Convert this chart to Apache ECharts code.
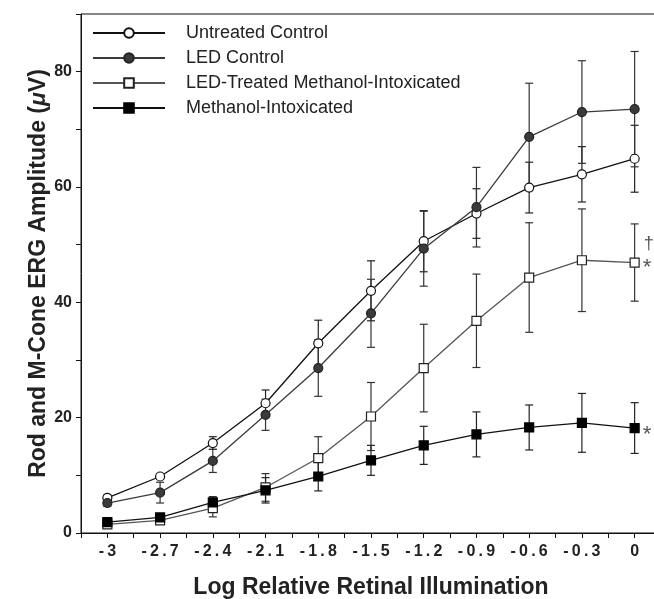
<!DOCTYPE html>
<html>
<head>
<meta charset="utf-8">
<script src="https://cdn.jsdelivr.net/npm/echarts@6/dist/echarts.min.js"></script>
<style>
html,body{margin:0;padding:0;background:#fff;}
#chart{width:654px;height:599px;}
</style>
</head>
<body>
<div id="chart"></div>
<script>
// Log relative retinal illumination
var xValues = [-3, -2.7, -2.4, -2.1, -1.8, -1.5, -1.2, -0.9, -0.6, -0.3, 0];

var seriesNames = ['Untreated Control', 'LED Control', 'LED-Treated Methanol-Intoxicated', 'Methanol-Intoxicated'];

var untreatedMean = [6.1, 9.8, 15.6, 22.5, 32.9, 42.0, 50.6, 55.4, 59.9, 62.2, 64.9];
var untreatedSD   = [0.5, 0.5, 1.1, 2.3, 4.0, 5.2, 5.3, 4.3, 4.4, 4.8, 5.8];

var ledControlMean = [5.2, 7.0, 12.5, 20.5, 28.6, 38.1, 49.3, 56.5, 68.7, 73.0, 73.5];
var ledControlSD   = [0.6, 1.8, 2.0, 2.7, 4.9, 5.9, 6.5, 6.9, 9.3, 8.9, 10.0];

var ledTreatedMean = [1.5, 2.2, 4.3, 7.9, 13.0, 20.2, 28.6, 36.8, 44.3, 47.3, 46.9];
var ledTreatedSD   = [0.4, 0.5, 1.5, 2.4, 3.7, 5.9, 7.6, 8.1, 9.5, 8.9, 6.7];

var methanolMean = [1.9, 2.7, 5.3, 7.4, 9.8, 12.6, 15.2, 17.1, 18.3, 19.1, 18.2];
var methanolSD   = [0.4, 0.5, 1.0, 2.2, 2.5, 2.6, 3.3, 3.9, 3.9, 5.1, 4.4];

// significance marks at the last point
var lastMarks = ['', '', '†\n*', '*'];

var FONT = 'Liberation Sans, Arial, Helvetica, sans-serif';

function pairs(mean) {
  return xValues.map(function (x, i) { return [x, mean[i]]; });
}
function bars(mean, sd) {
  return xValues.map(function (x, i) { return [x, mean[i] - sd[i], mean[i] + sd[i]]; });
}
function spaced(s) { return s.split('').join('\u2009'); }

var styles = [
  { line: '#111', symbol: 'circle', fill: '#fff', border: '#111', bar: '#222' },
  { line: '#3a3a3a', symbol: 'circle', fill: '#3a3a3a', border: '#222', bar: '#333' },
  { line: '#555', symbol: 'rect', fill: '#fff', border: '#222', bar: '#333' },
  { line: '#111', symbol: 'rect', fill: '#000', border: '#000', bar: '#222' }
];
var means = [untreatedMean, ledControlMean, ledTreatedMean, methanolMean];
var sds = [untreatedSD, ledControlSD, ledTreatedSD, methanolSD];

var series = [];
// error bars first (below)
means.forEach(function (m, k) {
  series.push({
    type: 'custom',
    name: seriesNames[k] + ' SD',
    data: bars(m, sds[k]),
    z: 1,
    silent: true,
    renderItem: function (params, api) {
      var x = api.value(0);
      var lo = api.coord([x, api.value(1)]);
      var hi = api.coord([x, api.value(2)]);
      var w = 4;
      var st = { stroke: styles[k].bar, lineWidth: 1.2 };
      return {
        type: 'group',
        children: [
          { type: 'line', shape: { x1: lo[0], y1: lo[1], x2: hi[0], y2: hi[1] }, style: st },
          { type: 'line', shape: { x1: lo[0] - w, y1: lo[1], x2: lo[0] + w, y2: lo[1] }, style: st },
          { type: 'line', shape: { x1: hi[0] - w, y1: hi[1], x2: hi[0] + w, y2: hi[1] }, style: st }
        ]
      };
    }
  });
});
means.forEach(function (m, k) {
  var d = pairs(m).map(function (p, i) {
    var item = { value: p };
    if (i === xValues.length - 1 && lastMarks[k]) {
      var two = lastMarks[k].indexOf('\n') >= 0;
      item.label = {
        show: true,
        position: 'right',
        distance: 3,
        formatter: two ? '{d|†}\n{s|*}' : '{s|*}',
        color: '#555',
        fontFamily: FONT,
        lineHeight: 24,
        rich: {
          d: { fontSize: 18, fontFamily: FONT, color: '#555', lineHeight: 24, padding: [0, 0, 0, 1] },
          s: { fontSize: 22, fontFamily: FONT, color: '#555', lineHeight: 24 }
        },
        offset: two ? [0, -7] : [0, 7]
      };
    }
    return item;
  });
  series.push({
    type: 'line',
    name: seriesNames[k],
    data: d,
    z: 3,
    symbol: styles[k].symbol,
    symbolSize: 9,
    lineStyle: { color: styles[k].line, width: 1.3 },
    itemStyle: { color: styles[k].fill, borderColor: styles[k].border, borderWidth: 1.2 },
    emphasis: { disabled: true },
    animation: false
  });
});

var chart = echarts.init(document.getElementById('chart'));
chart.setOption({
  animation: false,
  backgroundColor: '#fff',
  grid: {
    left: 81, top: 14, width: 580, bottom: 66,
    outerBoundsMode: 'none',
    containLabel: false,
    show: true, borderColor: '#111', borderWidth: 1, backgroundColor: 'transparent'
  },
  legend: {
    data: seriesNames,
    orient: 'vertical',
    left: 92,
    top: 24,
    padding: 0,
    itemWidth: 72,
    itemHeight: 12,
    itemGap: 7,
    textStyle: { fontFamily: FONT, fontSize: 18, color: '#222', padding: [0, 0, 0, 16] },
    inactiveColor: '#222',
    selectedMode: false
  },
  xAxis: {
    type: 'value',
    min: -3.15, max: 0.15, interval: 0.15,
    splitLine: { show: false },
    axisLine: { onZero: false, lineStyle: { color: '#111', width: 1 } },
    axisTick: { length: 5, lineStyle: { color: '#111' } },
    axisLabel: {
      interval: 0,
      margin: 11,
      color: '#222',
      fontFamily: FONT,
      fontSize: 16,
      fontWeight: 'bold',
      formatter: function (v) {
        var n = Math.round(v / 0.15);
        if (n % 2 !== 0 || v > 0.01 || v < -3.01) return '';
        return spaced(String(Math.round(v * 10) / 10));
      }
    },
    name: 'Log Relative Retinal Illumination',
    nameLocation: 'middle',
    nameMoveOverlap: false,
    nameGap: 43,
    nameTextStyle: { fontFamily: FONT, fontSize: 23, fontWeight: 'bold', color: '#222' }
  },
  yAxis: {
    type: 'value',
    min: 0, max: 90, interval: 10,
    splitLine: { show: false },
    axisLine: { onZero: false, lineStyle: { color: '#111', width: 1 } },
    axisTick: { length: 5, lineStyle: { color: '#111' } },
    axisLabel: {
      margin: 9,
      color: '#222',
      fontFamily: FONT,
      fontSize: 16,
      fontWeight: 'bold',
      formatter: function (v) {
        if (Math.round(v) % 20 !== 0 || v > 85) return '';
        return String(Math.round(v));
      }
    },
    name: '{t|Rod and M-Cone ERG Amplitude (}{i|μ}{t|V)}',
    nameLocation: 'middle',
    nameMoveOverlap: false,
    nameGap: 31,
    nameTextStyle: {
      rich: {
        t: { fontFamily: FONT, fontSize: 23, fontWeight: 'bold', color: '#222' },
        i: { fontFamily: FONT, fontSize: 23, fontWeight: 'bold', fontStyle: 'italic', color: '#222' }
      }
    }
  },
  series: series
});
</script>
</body>
</html>
